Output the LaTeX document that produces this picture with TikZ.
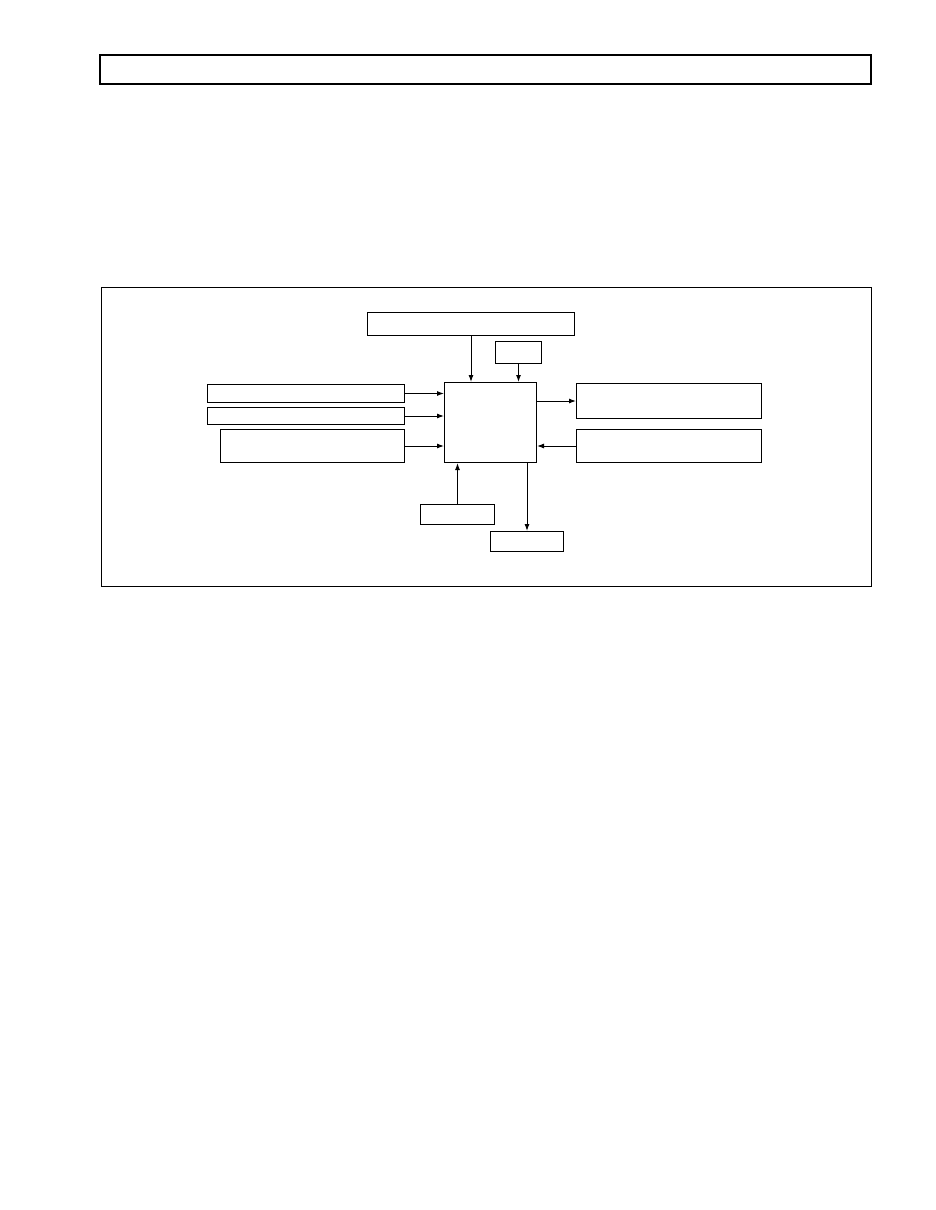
\documentclass[tikz,border=0pt]{standalone}
\usepackage{tikz}
\usetikzlibrary{arrows.meta}
\tikzset{
  blk/.style={draw, line width=1pt, inner sep=0pt, anchor=north west},
  flow/.style={line width=1pt, -{Latex[length=7pt,width=5pt]}}
}
\newcommand{\blockat}[5]{\node[blk, minimum width=#4pt, minimum height=#5pt] (#1) at (#2,#3) {};}
\begin{document}
\begin{tikzpicture}[x=1pt,y=-1pt]
\useasboundingbox (0,0) rectangle (935,1210);
\draw[line width=1.8pt] (100,55) rectangle (871,84);
\draw[line width=0.8pt] (101,287) rectangle (871,586);
% blocks
\blockat{core}{444}{382}{92}{80}
\blockat{topbar}{367}{312}{207}{23}
\blockat{tiny}{495}{341}{46}{22}
\blockat{inA}{207}{384}{197}{18}
\blockat{inB}{207}{407}{197}{17}
\blockat{inC}{220}{429}{184}{33}
\blockat{outA}{576}{383}{185}{35}
\blockat{inD}{576}{429}{185}{33}
\blockat{inE}{420}{504}{74}{20}
\blockat{outB}{490}{531}{73}{20}
% arrows
\draw[flow] (topbar.south) -- (topbar.south |- core.north);
\draw[flow] (tiny.south) -- (tiny.south |- core.north);
\draw[flow] (inA.east) -- (inA.east -| core.west);
\draw[flow] (inB.east) -- (inB.east -| core.west);
\draw[flow] (inC.east) -- (inC.east -| core.west);
\draw[flow] (outA.west -| core.east) -- (outA.west);
\draw[flow] (inD.west) -- (inD.west -| core.east);
\draw[flow] (inE.north) -- (inE.north |- core.south);
\draw[flow] (outB.north |- core.south) -- (outB.north);
\end{tikzpicture}
\end{document}
